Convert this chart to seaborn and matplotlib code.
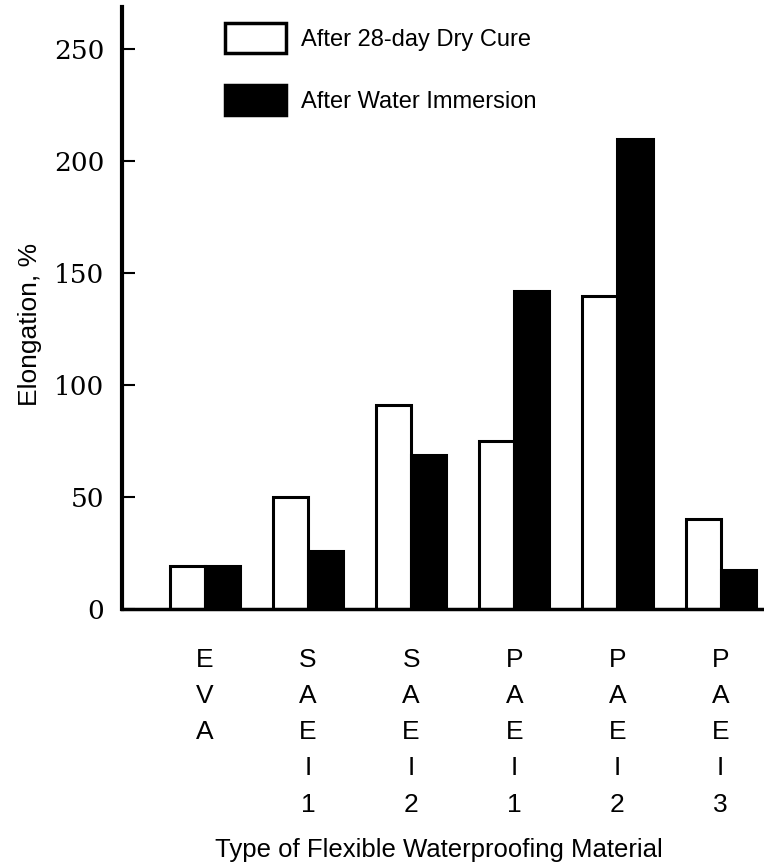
import matplotlib
matplotlib.use("Agg")
import matplotlib.pyplot as plt
import seaborn as sns
import pandas as pd

categories = ["E\nV\nA", "S\nA\nE\nI\n1", "S\nA\nE\nI\n2", "P\nA\nE\nI\n1", "P\nA\nE\nI\n2", "P\nA\nE\nI\n3"]
dry_cure = [19, 50, 91, 75, 140, 40]
water_immersion = [19, 26, 69, 142, 210, 17.5]
series_names = ["After 28-day Dry Cure", "After Water Immersion"]
y_ticks = [0, 50, 100, 150, 200, 250]

df = pd.DataFrame({
    "cat": categories * 2,
    "val": dry_cure + water_immersion,
    "series": [series_names[0]] * len(categories) + [series_names[1]] * len(categories),
})

sns.set_style("white")
plt.rcParams["font.family"] = ["Liberation Sans", "DejaVu Sans"]
for k in ["text.color", "axes.labelcolor", "xtick.color", "ytick.color"]:
    plt.rcParams[k] = "black"

fig = plt.figure(figsize=(7.64, 8.68), dpi=100)
ax = fig.add_axes([0.160, 0.2984, 0.84, 0.6936])

sns.barplot(data=df, x="cat", y="val", hue="series", order=categories,
            hue_order=series_names, palette=["white", "black"],
            edgecolor="black", linewidth=2.2, width=0.68, saturation=1,
            ax=ax, legend=True)

ax.set_xlim(-0.8, 5.42)
ax.set_ylim(0, 269)
ax.set_yticks(y_ticks)
ax.set_yticklabels([str(t) for t in y_ticks], family="DejaVu Serif", fontsize=19)
ax.tick_params(axis="y", direction="in", length=9, width=1.5, pad=13, left=True)
ax.tick_params(axis="x", length=0, pad=28, labelsize=19)
for lbl in ax.get_xticklabels():
    lbl.set_linespacing(1.64)
    lbl.set_verticalalignment("top")

for s in ["top", "right"]:
    ax.spines[s].set_visible(False)
ax.spines["left"].set_linewidth(3)
ax.spines["bottom"].set_linewidth(2.5)
ax.spines["left"].set_color("black")
ax.spines["bottom"].set_color("black")

ax.set_xlabel("Type of Flexible Waterproofing Material", fontsize=18.5)
ax.xaxis.set_label_coords(0.493, -0.380)
ax.set_ylabel("Elongation, %", fontsize=19)
ax.yaxis.set_label_coords(-0.125, 0.472)

leg = ax.legend(loc="upper left", bbox_to_anchor=(0.127, 1.008), frameon=False,
                fontsize=17, handlelength=2.6, handleheight=1.55,
                labelspacing=1.37, handletextpad=0.6)
for p in leg.get_patches():
    p.set_linewidth(2.5)
    p.set_edgecolor("black")

fig.savefig("out.png", dpi=100)
